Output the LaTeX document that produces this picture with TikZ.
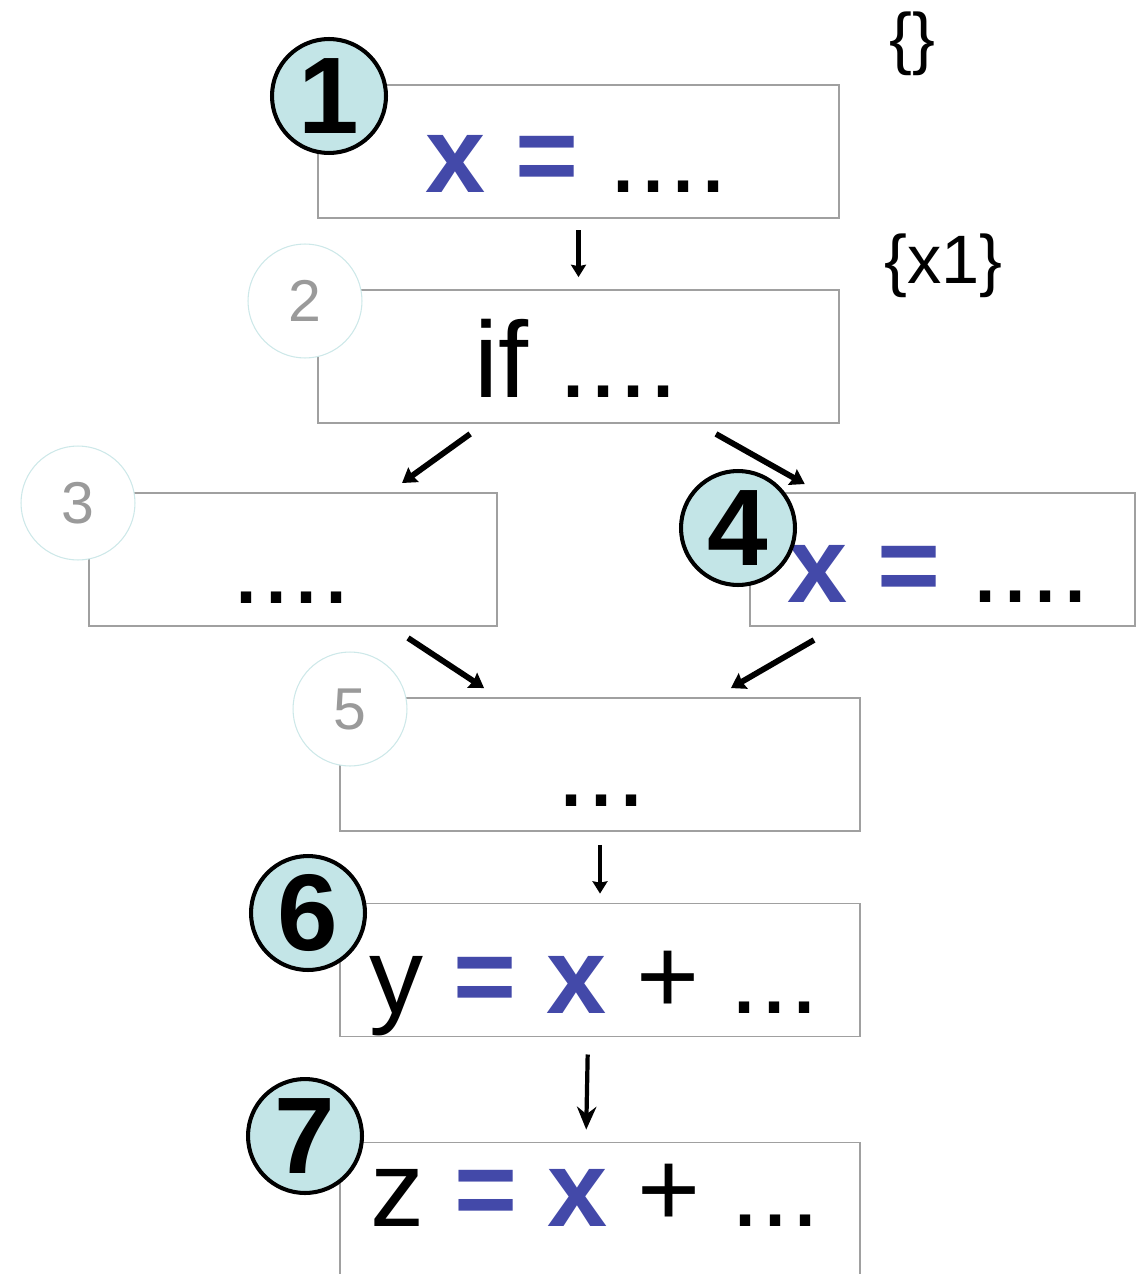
\documentclass[tikz,border=0pt]{standalone}
\usepackage{fontspec}
\setmainfont{Liberation Sans}
\usepackage{xcolor}
\usetikzlibrary{arrows.meta,calc}

\definecolor{xblue}{HTML}{4349A9}
\definecolor{cyanfill}{HTML}{C3E5E7}
\definecolor{faintcyan}{HTML}{CDE8E9}
\definecolor{numgray}{HTML}{9A9A9A}
\definecolor{boxgray}{HTML}{A0A0A0}

\newcommand{\hl}[1]{\textcolor{xblue}{\bfseries #1}}

\begin{document}
\begin{tikzpicture}[
    x=0.02cm, y=-0.02cm,
    box/.style={rectangle, draw=boxgray, line width=1.1pt, minimum height=2.66cm, inner sep=0pt},
    code/.style={anchor=base west, inner sep=0pt, font=\fontsize{61.5}{70}\selectfont},
    setnote/.style={anchor=base west, inner sep=0pt, font=\fontsize{39}{44}\selectfont},
    bignum/.style={circle, draw=black, line width=2.3pt, fill=cyanfill, minimum size=2.28cm, inner sep=0pt, font=\fontsize{62}{70}\selectfont\bfseries},
    faintnum/.style={circle, draw=faintcyan, line width=0.6pt, fill=white, minimum size=2.28cm, inner sep=0pt, text=numgray, font=\fontsize{33.6}{40}\selectfont},
    arrow/.style={-{Stealth[length=7pt, width=8.5pt, inset=0.8pt]}, line width=2.7pt},
    darrow/.style={-{Stealth[length=8pt, width=10pt, inset=0.8pt]}, line width=3.3pt}
]
    \useasboundingbox (0,0) rectangle (1148,1274);
    \clip (0,0) rectangle (1148,1274);

    % boxes
    \node[box, minimum width=10.42cm] (b1) at (578.5, 151.5) {};
    \node[box, minimum width=10.42cm] (b2) at (578.5, 356.5) {};
    \node[box, minimum width=8.16cm] (b3) at (293, 559.5) {};
    \node[box, minimum width=7.7cm] (b4) at (942.5, 559.5) {};
    \node[box, minimum width=10.4cm] (b5) at (600, 764.5) {};
    \node[box, minimum width=10.4cm] (b6) at (600, 970) {};
    \node[box, minimum width=10.4cm] (b7) at (600, 1209) {};

    % statements
    \node[code] (t1) at (425, 192) {\hl{x =} ....};
    \node[code] (t2) at (474, 397) {if ....};
    \node[code] (t3) at (231, 603) {....};
    \node[code] (t4) at (787, 602) {\hl{x =} ....};
    \node[code] (t5) at (556, 806) {...};
    \node[code] (t6) at (369, 1013) {y \hl{=} \hl{x} + ...};
    \node[code] (t7) at (370, 1226) {z \hl{=} \hl{x} + ...};

    % sets
    \node[setnote] (s1) at (889, 62) {\{\}};
    \node[setnote] (s2) at (884, 283) {\{x1\}};

    % numbers
    \node[bignum] (n1) at (329, 96) {1};
    \node[faintnum] (n2) at (305, 301) {2};
    \node[faintnum] (n3) at (78, 503) {3};
    \node[bignum] (n4) at (738, 528) {4};
    \node[faintnum] (n5) at (350, 709) {5};
    \node[bignum] (n6) at (308, 913) {6};
    \node[bignum] (n7) at (305, 1136) {7};

    % edges
    \draw[arrow, shorten <=6.3pt, shorten >=6.8pt] (b1.south) -- (b2.north);
    \draw[darrow, shorten <=9.7pt, shorten >=8.8pt] ($(b2.south)+(-94.5,0)$) -- ($(b3.north)+(96.5,0)$);
    \draw[darrow, shorten <=11.6pt, shorten >=9.3pt] ($(b2.south)+(119.7,0)$) -- ($(b4.north)+(-123.5,0)$);
    \draw[darrow, shorten <=11.4pt, shorten >=9.3pt] ($(b3.south)+(98.3,0)$) -- ($(b5.north)+(-102.3,0)$);
    \draw[darrow, shorten <=14.8pt, shorten >=10.2pt] ($(b4.south)+(-106,0)$) -- ($(b5.north)+(115.4,0)$);
    \draw[arrow, shorten <=7.4pt, shorten >=5.1pt] (b5.south) -- (b6.north);
    \draw[-{Stealth[length=13pt, width=11pt]}, line width=2.4pt, shorten <=9.7pt, shorten >=6.8pt] ($(b6.south)+(-12,0)$) -- ($(b7.north)+(-14,0)$);
\end{tikzpicture}
\end{document}
